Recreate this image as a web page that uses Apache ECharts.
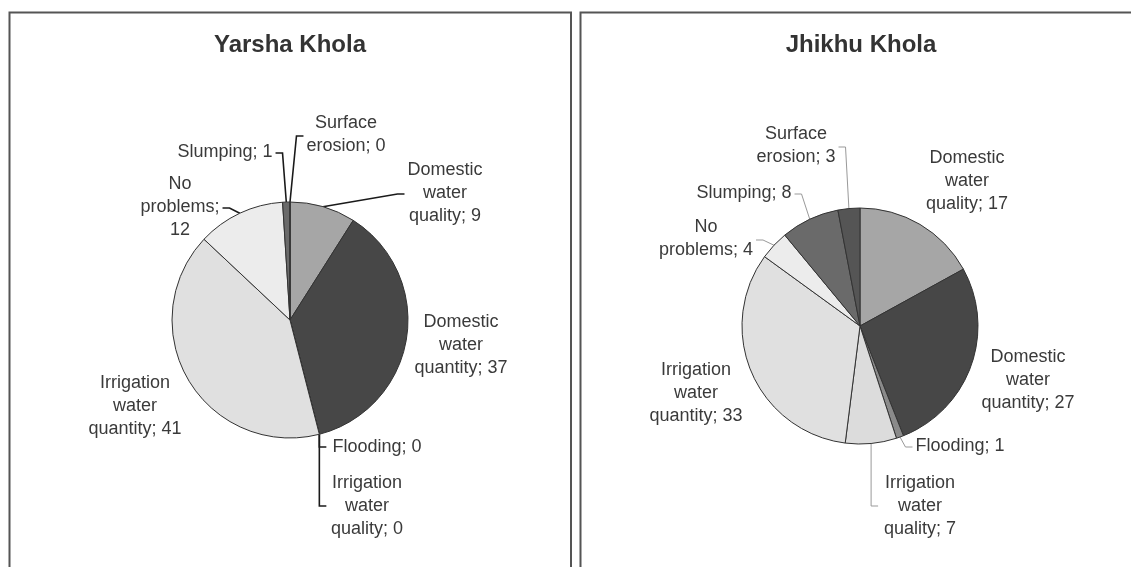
<!DOCTYPE html>
<html>
<head>
<meta charset="utf-8">
<script src="https://cdn.jsdelivr.net/npm/echarts@6/dist/echarts.min.js"></script>
<style>
html,body{margin:0;padding:0;background:#fff;}
#chart{width:1131px;height:567px;}
</style>
</head>
<body>
<div id="chart"></div>
<script>
// ---- data ----
const categories = ['Domestic water quality', 'Domestic water quantity', 'Flooding',
  'Irrigation water quality', 'Irrigation water quantity', 'No problems', 'Slumping', 'Surface erosion'];
const yarshaValues = [9, 37, 0, 0, 41, 12, 1, 0];
const jhikhuValues = [17, 27, 1, 7, 33, 4, 8, 3];
const chartTitles = ['Yarsha Khola', 'Jhikhu Khola'];

// ---- styles / layout ----
const sliceColors = ['#a6a6a6', '#474747', '#8a8a8a', '#dcdcdc', '#e0e0e0', '#ececec', '#6a6a6a', '#555555'];
const FONT = '"Liberation Sans", Arial, sans-serif';
const LABEL_SIZE = 18;
const WRAP_WIDTH = 100;
// label block centres and leader kinds (layout only)
const yarshaLabelPos = [[445, 193], [461, 345], [377, 447], [367, 506], [135, 406], [180, 207], [225, 152], [346, 135]];
const yarshaLeader = ['left', 'none', 'down', 'down', 'none', 'right', 'right', 'left'];
const jhikhuLabelPos = [[967, 181], [1028, 380], [960, 446], [920, 506], [696, 393], [706, 239], [744, 193], [796, 146]];
const jhikhuLeader = ['none', 'none', 'left', 'down', 'none', 'right', 'right', 'right'];

const measureCtx = document.createElement('canvas').getContext('2d');
measureCtx.font = LABEL_SIZE + 'px ' + FONT;
function wrap(text, maxW) {
  const words = text.split(' ');
  const lines = [];
  let cur = '';
  words.forEach(w => {
    const t = cur ? cur + ' ' + w : w;
    if (cur && measureCtx.measureText(t).width > maxW) { lines.push(cur); cur = w; }
    else cur = t;
  });
  if (cur) lines.push(cur);
  return lines.join('\n');
}

function makeLayout(posArr, kinds) {
  return function (params) {
    const i = params.dataIndex;
    const pos = posArr[i];
    const w = params.labelRect.width;
    const left = pos[0] - w / 2, right = pos[0] + w / 2, cy = pos[1];
    const res = { x: pos[0], y: pos[1], align: 'center', verticalAlign: 'middle' };
    const pts = params.labelLinePoints;
    if (pts && pts.length && kinds[i] !== 'none') {
      const p0 = pts[0];
      if (kinds[i] === 'left') res.labelLinePoints = [p0, [left - 10, cy + 1], [left - 3, cy + 1]];
      else if (kinds[i] === 'right') res.labelLinePoints = [p0, [right + 10, cy + 1], [right + 3, cy + 1]];
      else if (kinds[i] === 'down') res.labelLinePoints = [p0, [p0[0], cy], [p0[0] + 7, cy]];
    }
    return res;
  };
}

function makeSeries(values, center, posArr, kinds, lineColor, lineWidth) {
  return {
    type: 'pie',
    center: center,
    radius: 118,
    startAngle: 90,
    clockwise: true,
    avoidLabelOverlap: false,
    animation: false,
    emphasis: { disabled: true },
    itemStyle: { borderColor: '#333', borderWidth: 1 },
    label: {
      show: true,
      position: 'outside',
      fontFamily: FONT,
      fontSize: LABEL_SIZE,
      lineHeight: 23,
      color: '#3a3a3a',
      formatter: p => wrap(p.name + '; ' + p.value, WRAP_WIDTH)
    },
    labelLine: { show: true, length: 8, length2: 8, lineStyle: { color: lineColor, width: lineWidth } },
    labelLayout: makeLayout(posArr, kinds),
    data: categories.map((c, i) => ({
      name: c,
      value: values[i],
      itemStyle: { color: sliceColors[i] },
      labelLine: { show: kinds[i] !== 'none' }
    }))
  };
}

const chart = echarts.init(document.getElementById('chart'), null, { renderer: 'canvas' });
chart.setOption({
  backgroundColor: '#fff',
  animation: false,
  graphic: [
    { type: 'rect', shape: { x: 9.5, y: 12.5, width: 561.5, height: 600 }, style: { fill: 'none', stroke: '#555', lineWidth: 2 }, silent: true },
    { type: 'rect', shape: { x: 580.5, y: 12.5, width: 562, height: 600 }, style: { fill: 'none', stroke: '#555', lineWidth: 2 }, silent: true },
    { type: 'text', style: { text: chartTitles[0], x: 290, y: 45, align: 'center', verticalAlign: 'middle', font: 'bold 24px ' + FONT, fill: '#333' }, silent: true },
    { type: 'text', style: { text: chartTitles[1], x: 861, y: 45, align: 'center', verticalAlign: 'middle', font: 'bold 24px ' + FONT, fill: '#333' }, silent: true }
  ],
  series: [
    makeSeries(yarshaValues, [290, 320], yarshaLabelPos, yarshaLeader, '#1a1a1a', 1.6),
    makeSeries(jhikhuValues, [860, 326], jhikhuLabelPos, jhikhuLeader, '#999', 1)
  ]
});
</script>
</body>
</html>
